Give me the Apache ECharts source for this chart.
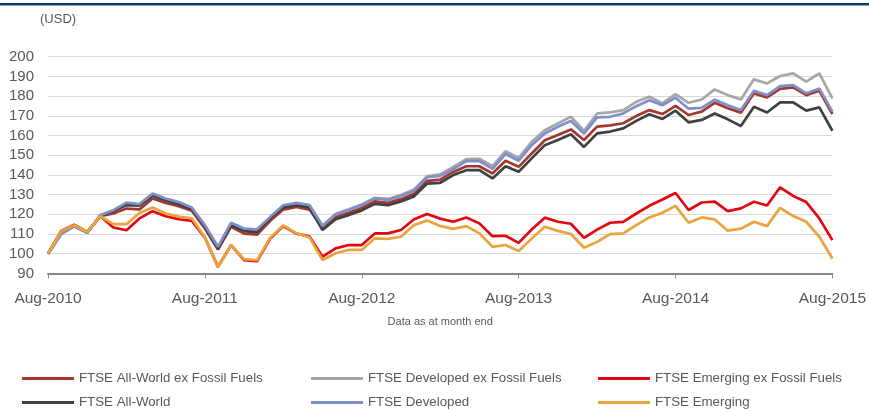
<!DOCTYPE html>
<html>
<head>
<meta charset="utf-8">
<script src="https://cdn.jsdelivr.net/npm/echarts@6/dist/echarts.min.js"></script>
<style>
  html, body { margin: 0; padding: 0; background: #fff; }
  #chart { width: 869px; height: 410px; }
</style>
</head>
<body>
<div id="chart"></div>
<script>
// month-end labels, Aug-2010 .. Aug-2015
const monthNames = ['Jan', 'Feb', 'Mar', 'Apr', 'May', 'Jun', 'Jul', 'Aug', 'Sep', 'Oct', 'Nov', 'Dec']
const categories = []
for (let y = 2010; y <= 2015; y++) {
  for (let m = 0; m < 12; m++) {
    if ((y === 2010 && m < 7) || (y === 2015 && m > 7)) continue
    categories.push(monthNames[m] + '-' + y)
  }
}

const yTicks = [90, 100, 110, 120, 130, 140, 150, 160, 170, 180, 190, 200]

const allWorldExFossil = [100, 110.5, 114.2, 110.8, 119, 120.4, 122.9, 122.5, 128, 125.8, 124.1, 121.8, 112.8, 102.1, 113.6, 110.2, 109.7, 116.7, 122.4, 123.8,
  122.4, 113, 118.6, 120.8, 123.2, 126.6, 125.8, 127.7, 130.4, 137, 137.6, 141.5, 144.4, 144.4, 140.7, 147.2, 144.1, 150.9, 157.6, 160.2,
  163.1, 157.7, 164.5, 165.1, 166.2, 169.9, 172.9, 170.9, 175, 170.4, 172.1, 176.6, 173.8, 171.6, 181.4, 179.3, 183.7, 184.4, 180.5, 182.7, 170.9]
const developedExFossil = [100, 110, 114, 110.7, 119.5, 121.9, 125.2, 124.8, 130, 127.6, 125.6, 123, 114.2, 103.3, 115.3, 112.4, 112, 118.4, 124.3, 125.5,
  124.5, 114.3, 120.2, 122.5, 125, 128.4, 127.8, 129.8, 132.6, 139.3, 140.3, 144.1, 148, 148.2, 144.4, 152, 148.6, 156.8, 162.7, 166.1,
  169.5, 162.3, 171.2, 171.7, 172.9, 177.1, 179.7, 176.3, 181, 176.6, 178.3, 183.4, 180.5, 178.3, 188.5, 186.4, 190.2, 191.5, 187.3, 191.5, 178.8]
const emergingExFossil = [100, 111.5, 114.7, 111.1, 119, 113.3, 111.9, 117.9, 121.6, 119, 117.5, 116.7, 108.2, 93.3, 104.3, 96.7, 96.2, 107.7, 114, 110.2,
  108.8, 98.5, 102.7, 104.4, 104.4, 110.3, 110.3, 112, 117.5, 120.2, 117.8, 116.2, 118.4, 115.4, 108.9, 109.1, 105.5, 112.3, 118.3, 116.2,
  115.2, 108, 112.2, 115.7, 116.2, 120.4, 124.3, 127.5, 130.8, 122.2, 126, 126.4, 121.6, 123, 126.4, 124.5, 133.7, 129.3, 126.2, 117.9, 106.9]
const allWorld = [100, 110.2, 114, 110.7, 119.2, 121.6, 124.7, 124.4, 129.4, 127.2, 125.1, 122.6, 113.8, 102.5, 114.5, 111.5, 111, 118, 123.5, 124.5,
  123.5, 112, 117.5, 119.6, 122, 125.3, 124.6, 126.5, 129.1, 135.6, 136, 139.9, 142.4, 142.4, 138.2, 144.4, 141.6, 148.4, 155.1, 157.7,
  160.6, 154.2, 161.1, 162, 163.6, 167.4, 170.8, 168.4, 172.6, 166.7, 167.9, 171.2, 168.2, 164.8, 174.6, 171.7, 176.8, 176.8, 172.6, 174.3, 162.4]
const developed = [100, 109.9, 113.9, 110.6, 119.5, 122.1, 125.9, 125.2, 130.5, 128, 126.2, 123.4, 114.5, 103.5, 115.7, 112.8, 112.4, 118.7, 124.6, 125.8,
  124.7, 114.1, 120, 122.2, 124.7, 128.1, 127.3, 129.3, 132, 138.8, 139.5, 142.9, 147, 147, 143.1, 150.6, 147.2, 155.1, 161, 164.4,
  167.4, 161, 169.2, 169.5, 171.2, 174.9, 177.9, 175.3, 179.2, 173.6, 174, 178.2, 175.4, 172.9, 182.7, 180.5, 185.1, 185.6, 181.4, 183.9, 172.1]
const emerging = [100, 111.4, 114.4, 111.1, 119, 115, 115, 120.7, 123.4, 120.4, 118.8, 118, 108.3, 93.1, 104.4, 97.2, 96.8, 108.1, 114.4, 110.4,
  108.3, 96.8, 100.2, 101.9, 101.9, 107.8, 107.5, 108.6, 114.6, 116.8, 114.1, 112.6, 114, 110.3, 103.5, 104.4, 101.3, 107.7, 113.7, 111.6,
  110, 103, 106, 109.9, 110.3, 114.5, 118.4, 120.8, 124.3, 115.7, 118.4, 117.4, 111.7, 112.7, 116.2, 114, 123.3, 119.1, 116.2, 108.6, 97.6]

const seriesList = [
  { name: 'FTSE All-World ex Fossil Fuels', data: allWorldExFossil, color: '#a3392e' },
  { name: 'FTSE Developed ex Fossil Fuels', data: developedExFossil, color: '#a6a6a6' },
  { name: 'FTSE Emerging ex Fossil Fuels', data: emergingExFossil, color: '#e30613' },
  { name: 'FTSE All-World', data: allWorld, color: '#404040' },
  { name: 'FTSE Developed', data: developed, color: '#7f8fc8' },
  { name: 'FTSE Emerging', data: emerging, color: '#e9a43c' }
]

const font = "'Liberation Sans', Arial, sans-serif"
const textColor = '#595959'

function legendColumn(left, names) {
  return {
    orient: 'vertical',
    left: left,
    top: 371,
    padding: 0,
    itemGap: 9,
    itemWidth: 52,
    itemHeight: 3,
    icon: 'rect',
    data: names,
    textStyle: { color: textColor, fontSize: 13.3, fontFamily: font, lineHeight: 15 }
  }
}

const chart = echarts.init(document.getElementById('chart'))
chart.setOption({
  animation: false,
  graphic: [
    { type: 'rect', left: 0, top: 3, shape: { width: 869, height: 2.5 }, style: { fill: '#163a6b' } },
    { type: 'text', left: 40, top: 13, style: { text: '(USD)', fill: textColor, font: '13px ' + font } }
  ],
  grid: { left: 48, right: 36, top: 56.7, bottom: 136.6, containLabel: false },
  legend: [
    legendColumn(22, [seriesList[0].name, seriesList[3].name]),
    legendColumn(311, [seriesList[1].name, seriesList[4].name]),
    legendColumn(598, [seriesList[2].name, seriesList[5].name])
  ],
  xAxis: {
    type: 'category',
    data: categories,
    boundaryGap: false,
    name: 'Data as at month end',
    nameLocation: 'middle',
    nameGap: 43,
    nameTextStyle: { color: textColor, fontSize: 11, fontFamily: font, verticalAlign: 'top' },
    axisLine: { lineStyle: { color: '#868686', width: 2 } },
    axisTick: { interval: 11, length: 5, lineStyle: { color: '#868686', width: 1 } },
    axisLabel: { interval: 11, margin: 17, color: textColor, fontSize: 15.5, fontFamily: font },
    splitLine: { show: false }
  },
  yAxis: {
    type: 'value',
    min: yTicks[0],
    max: yTicks[yTicks.length - 1],
    interval: 10,
    axisLine: { show: false },
    axisTick: { show: false },
    axisLabel: { margin: 14, color: textColor, fontSize: 15, fontFamily: font },
    splitLine: { lineStyle: { color: '#d9d9d9', width: 1 } }
  },
  series: seriesList.map(s => ({
    name: s.name,
    type: 'line',
    data: s.data,
    symbol: 'none',
    lineStyle: { color: s.color, width: 2.7 },
    itemStyle: { color: s.color }
  }))
})
</script>
</body>
</html>
